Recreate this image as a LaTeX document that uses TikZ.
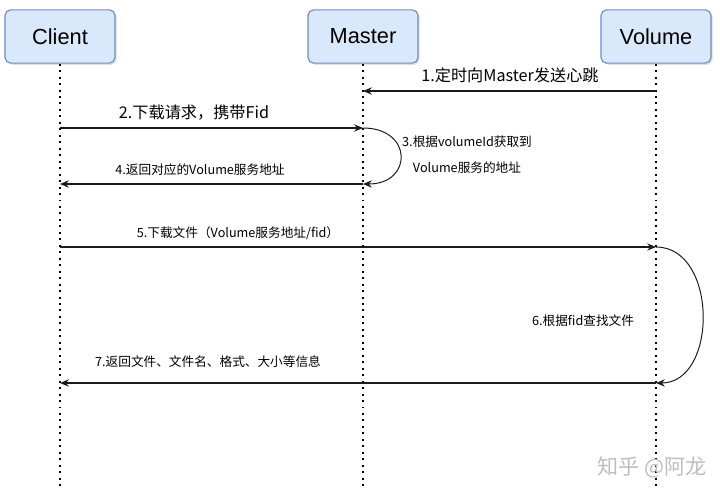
\documentclass[tikz,border=0pt]{standalone}
\usepackage{fontspec}
\setmainfont{Liberation Sans}
\newfontfamily\cjk{Noto Sans CJK SC}
\usepackage{tikz}
\usetikzlibrary{
  arrows.meta,
  positioning,
  shadows
}
\definecolor{sqFill}{HTML}{DAE8FC}
\definecolor{sqDraw}{HTML}{6C8EBF}
\definecolor{sqLine}{HTML}{1A1A1A}
\definecolor{sqMark}{HTML}{BDBDBD}
\tikzset{
  actor/.style={
    draw=sqDraw, fill=sqFill, rounded corners=4pt, thick,
    minimum width=2.75cm, minimum height=1.33cm,
    font=\fontsize{15.5}{18}\selectfont,
    drop shadow={opacity=0.25, shadow xshift=1.2pt, shadow yshift=-1.2pt}
  },
  lifeline/.style={line width=1.2pt, black, dash pattern=on 1.4pt off 3.2pt},
  msg/.style={-{Stealth[length=2.2mm, width=1.8mm]}, line width=0.8pt, sqLine},
  selfloop/.style={msg, line width=0.7pt},
  msglabel/.style={font=\cjk\fontsize{9}{11}\selectfont, inner sep=1pt},
  biglabel/.style={font=\cjk\fontsize{11.5}{14}\selectfont, inner sep=1pt},
  watermark/.style={font=\cjk\fontsize{15}{18}\selectfont, text=sqMark}
}
\begin{document}
\begin{tikzpicture}[x=0.025cm, y=-0.025cm]
  \useasboundingbox (0,0) rectangle (720,497);

  % actors
  \node[actor] (client) at (60,36.5) {Client};
  \node[actor] (master) at (363,36.5) {Master};
  \node[actor] (volume) at (656,36.5) {Volume};

  % lifeline ends and message points
  \coordinate (cEnd) at (60,490);
  \coordinate (mEnd) at (363,490);
  \coordinate (vEnd) at (656,490);
  \foreach \n/\y in {1/91, 2/128, 3/184, 5/247, 7/383} {
    \coordinate (c\n) at (60,\y);
    \coordinate (m\n) at (363,\y);
    \coordinate (v\n) at (656,\y);
  }

  \draw[lifeline] (client.south) -- (cEnd);
  \draw[lifeline] (master.south) -- (mEnd);
  \draw[lifeline] (volume.south) -- (vEnd);

  % messages
  \draw[msg, line width=1pt] (v1) -- (m1);
  \node[biglabel] (l1) at (510,75) {1.定时向Master发送心跳};

  \draw[msg] (c2) -- (m2);
  \node[biglabel] (l2) at (194,113) {2.下载请求，携带Fid};

  \draw[selfloop] (m2) .. controls +(50,0) and +(50,0) .. (m3);
  \node[msglabel] (l3a) at (467,142) {3.根据volumeId获取到};
  \node[msglabel] (l3b) at (467,168) {Volume服务的地址};

  \draw[msg] (m3) -- (c3);
  \node[msglabel] (l4) at (200,170) {4.返回对应的Volume服务地址};

  \draw[msg] (c5) -- (v5);
  \node[msglabel] (l5) at (238,233) {5.下载文件（Volume服务地址/fid）};

  \draw[selfloop] (v5) .. controls +(62,0) and +(62,0) .. (v7);
  \node[msglabel] (l6) at (583,321) {6.根据fid查找文件};

  \draw[msg, line width=1pt] (v7) -- (c7);
  \node[msglabel] (l7) at (208,362) {7.返回文件、文件名、格式、大小等信息};

  \node[watermark] (mark) at (652,467) {知乎 @阿龙};
\end{tikzpicture}
\end{document}
